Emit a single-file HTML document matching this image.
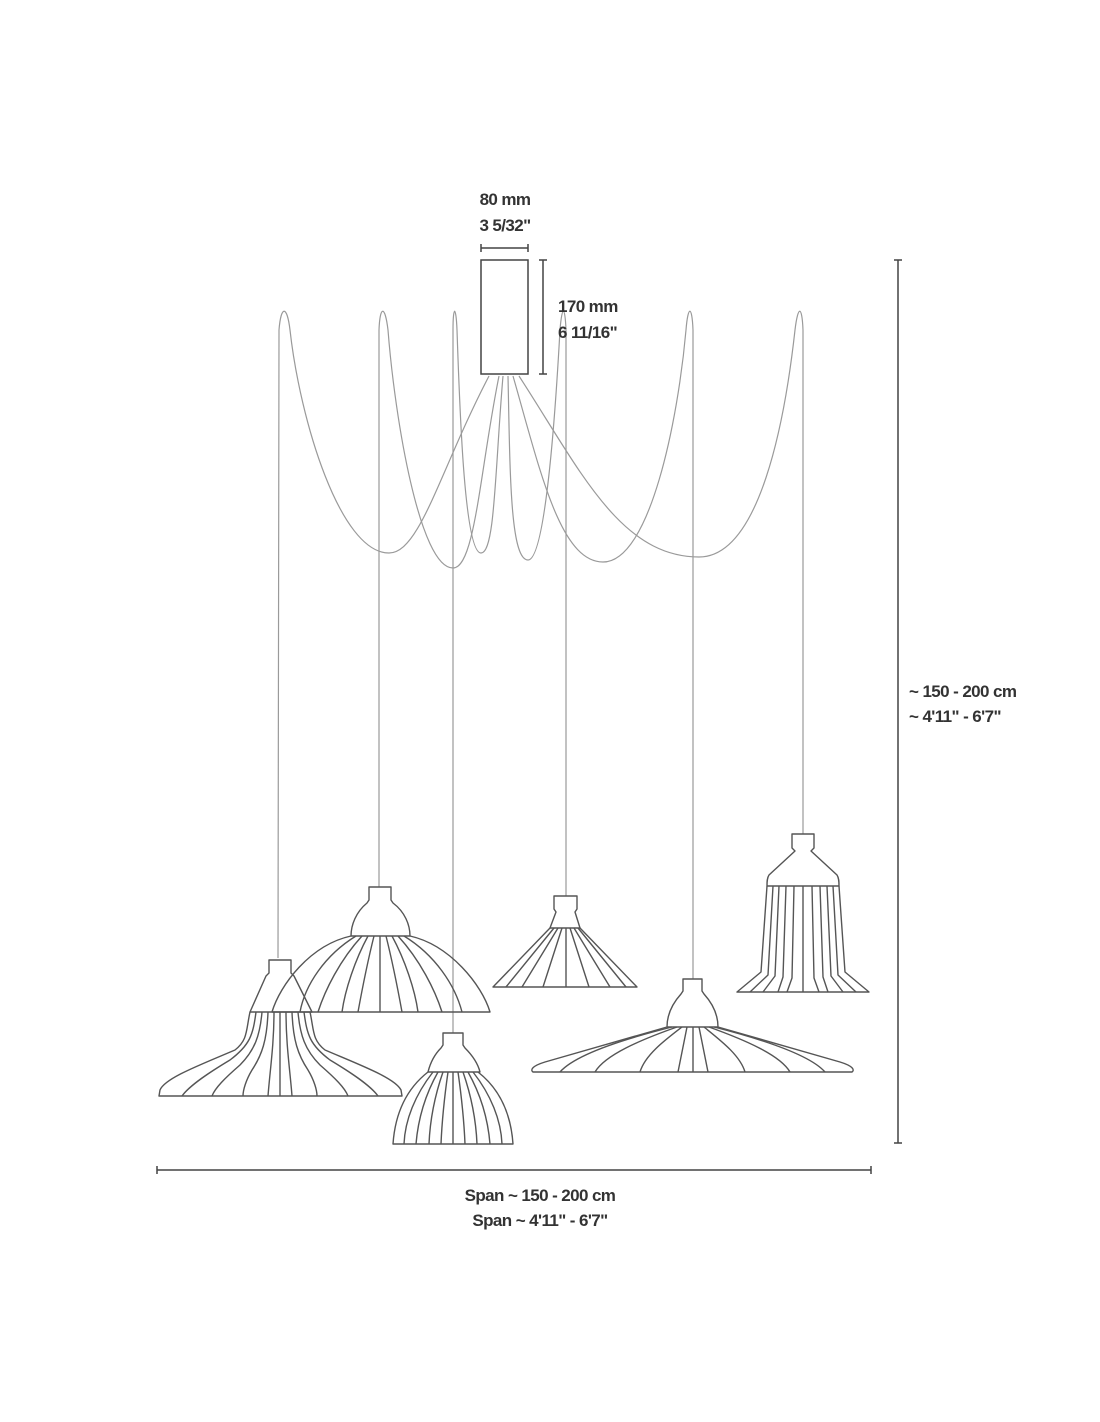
<!DOCTYPE html>
<html><head><meta charset="utf-8"><style>
html,body{margin:0;padding:0;background:#fff;width:1100px;height:1422px;overflow:hidden}
svg{display:block}
text{font-family:"Liberation Sans",sans-serif;font-weight:bold;fill:#333;font-size:17px;letter-spacing:-0.6px}
</style></head><body>
<svg width="1100" height="1422" viewBox="0 0 1100 1422" xmlns="http://www.w3.org/2000/svg">
<g fill="none" stroke="#9a9a9a" stroke-width="1.2">
<path d="M489,376 C440,470 420,553 389,553 C340,553 300,420 290,330 C287,305 281,305 279,330 L278,958"/>
<path d="M499,376 C480,470 475,568 453,568 C420,568 395,420 388,330 C385,305 380,305 379,330 L379,887"/>
<path d="M503,376 C495,470 495,553 481,553 C465,553 460,420 457,330 C456,305 453,305 453,330 L453,1033"/>
<path d="M508,376 C510,470 510,560 528,560 C545,560 555,420 560,330 C562,305 565,305 566,330 L566,896"/>
<path d="M513,376 C540,470 560,562 603,562 C650,562 678,420 686,330 C688,305 692,305 693,330 L693,979"/>
<path d="M519,376 C580,470 620,557 699,557 C760,557 785,420 795,330 C798,305 802,305 803,330 L803,834"/>
</g>
<rect x="481" y="260" width="47" height="114" fill="#fff" stroke="#444" stroke-width="1.5"/>
<g stroke="#444" stroke-width="1.5" fill="none">
<path d="M481,248 H528 M481,244 V252 M528,244 V252"/>
<path d="M543,260 V374 M539,260 H547 M539,374 H547"/>
<path d="M898,260 V1143 M894,260 H902 M894,1143 H902"/>
<path d="M157,1170 H871 M157,1166 V1174 M871,1166 V1174"/>
</g>
<text x="505" y="205" text-anchor="middle">80 mm</text>
<text x="505" y="231" text-anchor="middle">3 5/32"</text>
<text x="558" y="312">170 mm</text>
<text x="558" y="338">6 11/16"</text>
<text x="909" y="697">~ 150 - 200 cm</text>
<text x="909" y="722">~ 4'11" - 6'7"</text>
<text x="540" y="1201" text-anchor="middle">Span ~ 150 - 200 cm</text>
<text x="540" y="1226" text-anchor="middle">Span ~ 4'11" - 6'7"</text>

<g fill="none" stroke="#555" stroke-width="1.4" stroke-linejoin="round">
<path d="M369,887 H391 V900 L393,903 C405,912 410,925 410,936 H351 C351,925 356,912 367,903 L369,900 Z"/>
<path d="M351,936 C310,945 280,985 272,1012 H490 C482,985 450,945 410,936"/>
<path d="M356,936 C325,955 305,985 300,1012 M362,936 C340,960 325,990 318,1012 M368,936 C355,960 345,990 342,1012 M374,936 C368,960 362,990 358,1012 M380,936 V1012 M386,936 C392,960 398,990 402,1012 M392,936 C405,960 415,990 418,1012 M398,936 C420,960 435,990 442,1012 M404,936 C435,955 455,985 462,1012"/>
<path d="M269,960 H291 V973 L294,976 L312,1012 H250 L266,976 L269,973 Z"/>
<path d="M250,1012 C246,1030 248,1040 235,1050 C200,1065 165,1078 160,1090 L159,1096 H402 L401,1090 C395,1078 360,1065 325,1050 C312,1040 314,1030 310,1012"/>
<path d="M256,1012 C253,1035 250,1045 230,1060 C210,1072 190,1085 182,1096 M262,1012 C260,1035 255,1050 240,1065 C225,1078 215,1088 212,1096 M268,1012 C267,1040 262,1055 252,1070 C246,1080 243,1090 243,1096 M274,1012 C274,1045 270,1070 268,1096 M280,1012 V1096 M286,1012 C286,1045 290,1070 292,1096 M292,1012 C293,1040 298,1055 308,1070 C314,1080 317,1090 317,1096 M298,1012 C300,1035 305,1050 320,1065 C335,1078 345,1088 348,1096 M304,1012 C307,1035 310,1045 330,1060 C350,1072 370,1085 378,1096"/>
<path d="M443,1033 H463 V1045 L465,1048 C472,1055 478,1064 480,1072 H428 C430,1064 434,1055 441,1048 L443,1045 Z"/>
<path d="M428,1072 C405,1090 395,1115 393,1144 H513 C511,1115 501,1090 478,1072"/>
<path d="M433,1072 C415,1095 405,1120 404,1144 M438,1072 C425,1095 418,1120 416,1144 M443,1072 C435,1095 430,1120 429,1144 M448,1072 C444,1100 442,1120 441,1144 M453,1072 V1144 M458,1072 C462,1100 464,1120 465,1144 M463,1072 C471,1095 476,1120 477,1144 M468,1072 C481,1095 488,1120 490,1144 M473,1072 C491,1095 501,1120 502,1144"/>
<path d="M554,896 H577 V909 L575,912 L580,928 H550 L556,912 L554,909 Z"/>
<path d="M550,928 L493,987 H637 L580,928"/>
<path d="M554,928 L506,987 M558,928 L522,987 M562,928 L543,987 M566,928 V987 M570,928 L589,987 M574,928 L610,987 M578,928 L626,987"/>
<path d="M683,979 H702 V991 L704,994 C713,1004 718,1015 718,1027 H667 C667,1015 672,1004 681,994 L683,991 Z"/>
<path d="M667,1027 L545,1062 C532,1066 530,1070 533,1072 H852 C855,1070 853,1066 840,1062 L718,1027"/>
<path d="M672,1027 C620,1040 575,1055 560,1072 M677,1027 C640,1040 605,1055 595,1072 M682,1027 C665,1040 645,1055 640,1072 M687,1027 L678,1072 M693,1027 V1072 M699,1027 L708,1072 M704,1027 C720,1040 740,1055 745,1072 M709,1027 C745,1040 780,1055 790,1072 M714,1027 C765,1040 810,1055 825,1072"/>
<path d="M792,834 H814 V848 L811,851 L837,875 C839,878 839,882 839,886 H767 C767,882 767,878 769,875 L795,851 L792,848 Z"/>
<path d="M767,886 L761,972 L737,992 H869 L845,972 L839,886"/>
<path d="M773,886 L768,975 L750,992 M779,886 L775,976 L763,992 M786,886 L783,977 L778,992 M794,886 L792,978 L787,992 M803,886 V992 M812,886 L814,978 L819,992 M820,886 L823,977 L828,992 M827,886 L831,976 L843,992 M833,886 L838,975 L856,992"/>
</g>
</svg>
</body></html>
